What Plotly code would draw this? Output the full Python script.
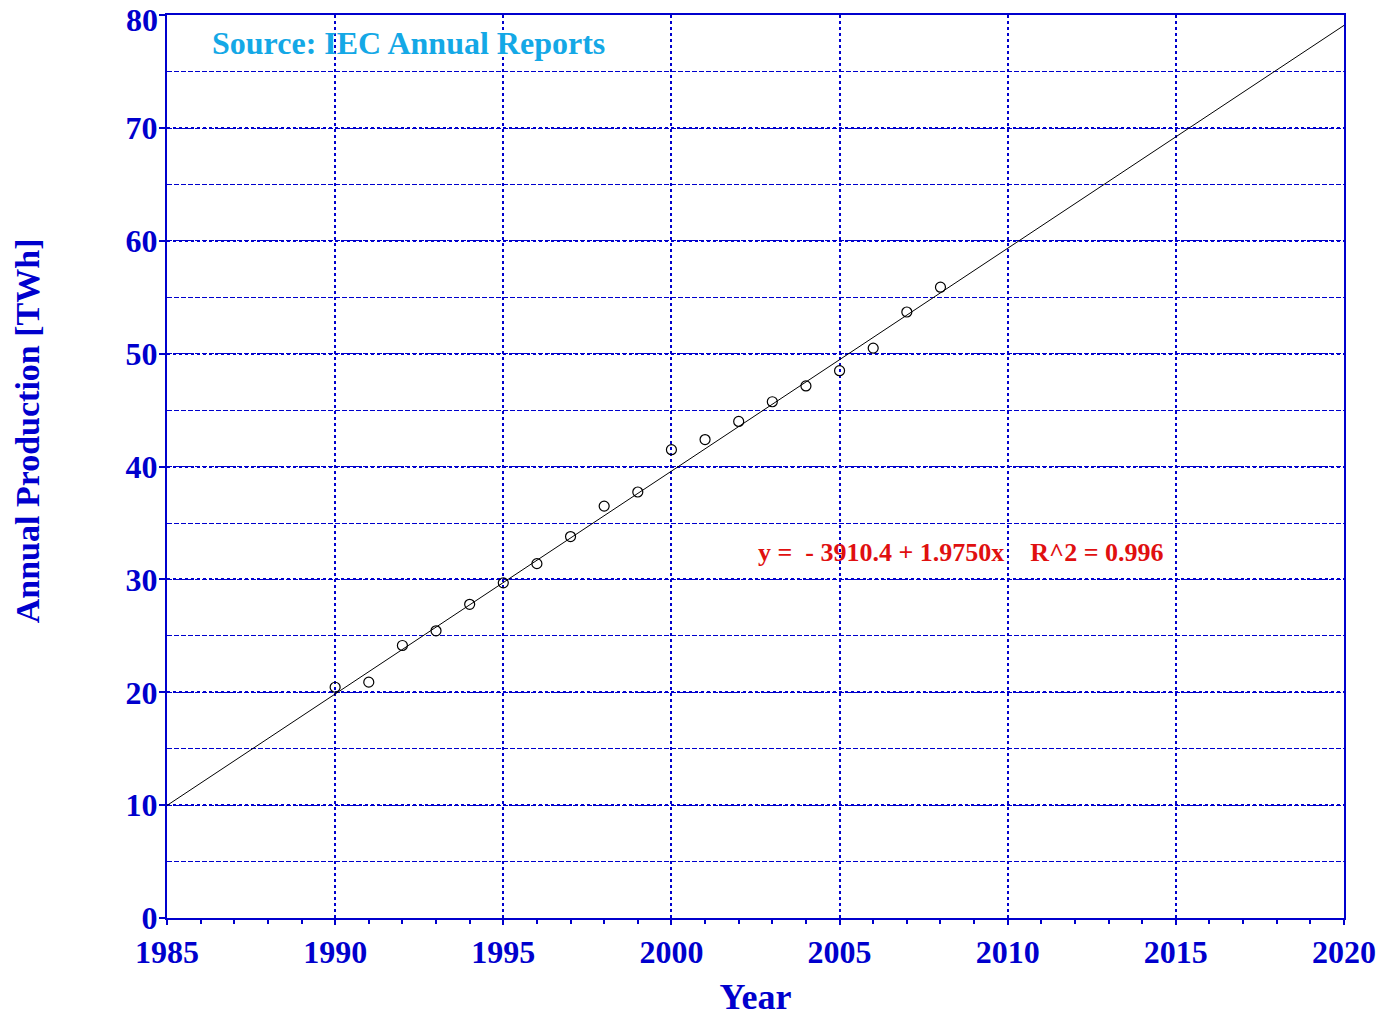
import plotly.graph_objects as go

years = [1990, 1991, 1992, 1993, 1994, 1995, 1996, 1997, 1998, 1999,
         2000, 2001, 2002, 2003, 2004, 2005, 2006, 2007, 2008]
production = [20.45, 20.9, 24.15, 25.45, 27.8, 29.7, 31.4, 33.8, 36.5, 37.75,
              41.5, 42.4, 44.0, 45.75, 47.15, 48.5, 50.5, 53.7, 55.9]
fit_x = [1985, 2020]
fit_y = [9.975, 79.1]
x_ticks = [1985, 1990, 1995, 2000, 2005, 2010, 2015, 2020]
y_ticks = [0, 10, 20, 30, 40, 50, 60, 70, 80]

BLUE = "#0000CD"
FONT = "Liberation Serif"

# top tick label is drawn as an annotation so it is not clipped at the page edge
y_ticktext = [str(v) for v in y_ticks[:-1]] + [""]

fig = go.Figure()
fig.add_trace(go.Scatter(x=fit_x, y=fit_y, mode="lines",
                         line=dict(color="black", width=1), hoverinfo="skip"))
fig.add_trace(go.Scatter(x=years, y=production, mode="markers",
                         marker=dict(symbol="circle-open", size=10,
                                     color="black", line=dict(width=1.2, color="black"))))

fig.update_layout(
    width=1393, height=1017,
    margin=dict(l=159, r=57, t=7, b=107, autoexpand=False),
    paper_bgcolor="white", plot_bgcolor="white",
    showlegend=False,
    font=dict(family=FONT, color=BLUE),
    xaxis=dict(
        range=[1985, 2020], tickvals=x_ticks, automargin=False,
        tickfont=dict(family=FONT, size=32, color=BLUE, weight="bold"),
        ticklabeloverflow="allow",
        showline=True, linecolor=BLUE, linewidth=2, mirror=True,
        ticks="outside", ticklen=5, tickcolor=BLUE, tickwidth=1.5,
        showgrid=True, gridcolor=BLUE, gridwidth=2, griddash="3px,3px",
        zeroline=False,
        minor=dict(dtick=1, ticks="outside", ticklen=4, tickcolor=BLUE, showgrid=False),
        title=dict(text="Year", font=dict(family=FONT, size=36, color=BLUE, weight="bold"),
                   standoff=14),
    ),
    yaxis=dict(
        range=[0, 80.02], tickvals=y_ticks, ticktext=y_ticktext, automargin=False,
        tickfont=dict(family=FONT, size=32, color=BLUE, weight="bold"),
        ticklabeloverflow="allow", ticklabelstandoff=-5,
        showline=True, linecolor=BLUE, linewidth=2, mirror=True,
        ticks="outside", ticklen=6, tickcolor=BLUE, tickwidth=1.5,
        showgrid=True, gridcolor=BLUE, gridwidth=2, griddash="3px,3px",
        zeroline=False,
        minor=dict(dtick=5, ticks="", showgrid=True, gridcolor=BLUE, gridwidth=1,
                   griddash="5px,2px"),
    ),
)

fig.add_annotation(x=0, y=y_ticks[-1], xref="paper", yref="y",
                   text=str(y_ticks[-1]), showarrow=False,
                   xanchor="right", yanchor="middle", xshift=-7, yshift=-5,
                   font=dict(family=FONT, size=32, color=BLUE, weight="bold"))
fig.add_annotation(x=-0.119, y=0.540, xref="paper", yref="paper",
                   text="Annual Production [TWh]", showarrow=False, textangle=-90,
                   font=dict(family=FONT, size=34, color=BLUE, weight="bold"),
                   xanchor="center", yanchor="middle")
fig.add_annotation(x=0.205, y=0.969, xref="paper", yref="paper",
                   text="Source: IEC Annual Reports", showarrow=False,
                   font=dict(family=FONT, size=32, color="#14A8E6", weight="bold"),
                   xanchor="center", yanchor="middle")
fig.add_annotation(x=0.6746, y=0.405, xref="paper", yref="paper",
                   text="y =  - 3910.4 + 1.9750x    R^2 = 0.996", showarrow=False,
                   font=dict(family=FONT, size=26, color="#E01010", weight="bold"),
                   xanchor="center", yanchor="middle")

fig.write_html("out.html")
